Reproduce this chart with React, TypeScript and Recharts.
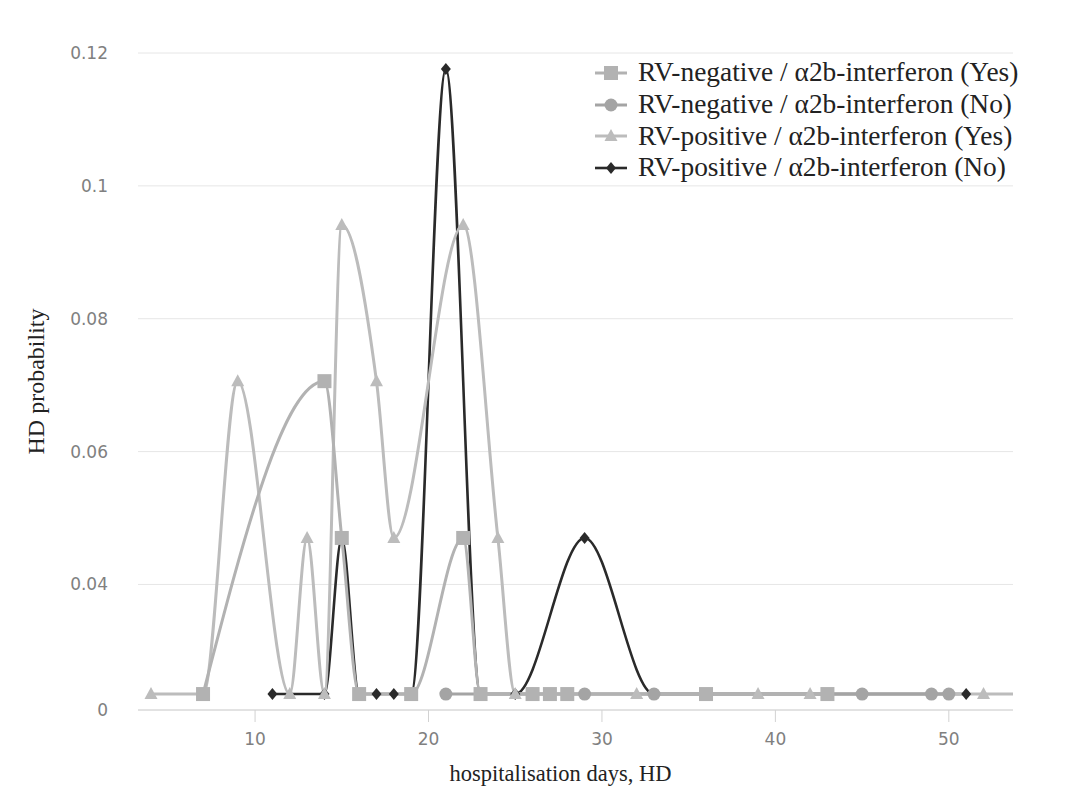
import { LineChart, Line, XAxis, YAxis, CartesianGrid, Legend, Label } from "recharts";

// one patient in a group ~ 0.0235, the flat line along the bottom
const sqDays = [7, 14, 15, 16, 19, 22, 23, 26, 27, 28, 36, 43];
const sqProb = [0.0235, 0.0706, 0.047, 0.0235, 0.0235, 0.047, 0.0235, 0.0235, 0.0235, 0.0235, 0.0235, 0.0235];

const ciDays = [21, 26, 29, 33, 45, 49, 50];
const ciProb = [0.0235, 0.0235, 0.0235, 0.0235, 0.0235, 0.0235, 0.0235];

const trDays = [4, 7, 9, 12, 13, 14, 15, 17, 18, 22, 24, 25, 32, 39, 42, 52, 54];
const trProb = [0.0235, 0.0235, 0.0706, 0.0235, 0.047, 0.0235, 0.0941, 0.0706, 0.047, 0.0941, 0.047, 0.0235, 0.0235, 0.0235, 0.0235, 0.0235, 0.0235];

const diDays = [11, 14, 15, 16, 17, 18, 19, 21, 23, 25, 29, 33, 51];
const diProb = [0.0235, 0.0235, 0.047, 0.0235, 0.0235, 0.0235, 0.0235, 0.1176, 0.0235, 0.0235, 0.047, 0.0235, 0.0235];

const xTicks = [10, 20, 30, 40, 50];
const X_MIN = 3.25;
const X_MAX = 53.7;
const Y_MIN = 0.0211;
const yTicks = [Y_MIN, 0.04, 0.06, 0.08, 0.1, 0.12];

const toPoints = (days: number[], probs: number[]) => days.map((x, i) => ({ x, p: probs[i] }));

type Shape = "square" | "circle" | "triangle" | "diamond";

const SERIES: { name: string; data: { x: number; p: number }[]; color: string; shape: Shape; width: number }[] = [
  { name: "RV-negative / α2b-interferon (Yes)", data: toPoints(sqDays, sqProb), color: "#b2b2b2", shape: "square", width: 3 },
  { name: "RV-negative / α2b-interferon (No)", data: toPoints(ciDays, ciProb), color: "#a4a4a4", shape: "circle", width: 3 },
  { name: "RV-positive / α2b-interferon (Yes)", data: toPoints(trDays, trProb), color: "#bcbcbc", shape: "triangle", width: 3 },
  { name: "RV-positive / α2b-interferon (No)", data: toPoints(diDays, diProb), color: "#2a2a2a", shape: "diamond", width: 2.6 },
];

function Marker({ shape, cx, cy, color }: { shape: Shape; cx: number; cy: number; color: string }) {
  if (shape === "square") return <rect x={cx - 7} y={cy - 7} width={14} height={14} fill={color} />;
  if (shape === "circle") return <circle cx={cx} cy={cy} r={6.5} fill={color} />;
  if (shape === "triangle")
    return <polygon points={`${cx},${cy - 7} ${cx + 6.5},${cy + 5} ${cx - 6.5},${cy + 5}`} fill={color} />;
  return <polygon points={`${cx},${cy - 6} ${cx + 5},${cy} ${cx},${cy + 6} ${cx - 5},${cy}`} fill={color} />;
}

const serif = '"Liberation Serif", "Times New Roman", serif';
const tickStyle = { fill: "#808080", fontSize: 17, fontFamily: '"DejaVu Sans", sans-serif' };

function LegendBox() {
  return (
    <div style={{ fontFamily: serif, fontSize: 27.4, color: "#222" }}>
      {SERIES.map((s) => (
        <div key={s.name} style={{ display: "flex", alignItems: "center", height: 31.7, whiteSpace: "nowrap" }}>
          <svg width={32} height={20} style={{ marginRight: 11 }}>
            <line x1={0} y1={10} x2={32} y2={10} stroke={s.color} strokeWidth={s.width} />
            <Marker shape={s.shape} cx={16} cy={10} color={s.color} />
          </svg>
          {s.name}
        </div>
      ))}
    </div>
  );
}

// the dark series sits underneath the grey ones
const drawOrder = [...SERIES].reverse();

export default function App() {
  return (
    <LineChart width={1074} height={780} margin={{ top: 45, right: 69, bottom: 0, left: 0 }}>
      <CartesianGrid vertical={false} stroke="#e6e6e6" />
      <XAxis
        type="number"
        dataKey="x"
        domain={[X_MIN, X_MAX]}
        allowDataOverflow
        ticks={xTicks}
        height={78}
        tickSize={12}
        tickMargin={11}
        stroke="#d2d2d2"
        tick={tickStyle}
      >
        <Label
          value="hospitalisation days, HD"
          position="insideBottom"
          offset={7}
          dx={-15}
          style={{ fontFamily: serif, fontSize: 22.5, fill: "#222" }}
        />
      </XAxis>
      <YAxis
        type="number"
        domain={[Y_MIN, 0.12]}
        ticks={yTicks}
        tickFormatter={(v: number) => (v < 0.03 ? "0" : String(v))}
        width={130}
        axisLine={false}
        tickLine={false}
        tickSize={0}
        tickMargin={30}
        tick={tickStyle}
      >
        <Label
          value="HD probability"
          angle={-90}
          position="insideLeft"
          offset={31}
          dx={-4}
          style={{ fontFamily: serif, fontSize: 24, fill: "#222", textAnchor: "middle" }}
        />
      </YAxis>
      <Legend
        layout="vertical"
        align="center"
        verticalAlign="middle"
        wrapperStyle={{ left: 587, top: 49, width: "auto" }}
        content={() => <LegendBox />}
      />
      {drawOrder.map((s) => (
        <Line
          key={s.name}
          name={s.name}
          data={s.data}
          dataKey="p"
          type="monotone"
          stroke={s.color}
          strokeWidth={s.width}
          activeDot={false}
          isAnimationActive={false}
          dot={(props: any) =>
            props.payload.x > X_MAX ? (
              <g key={`d-${props.index}`} />
            ) : (
              <g key={`d-${props.index}`}>
                <Marker shape={s.shape} cx={props.cx} cy={props.cy} color={s.color} />
              </g>
            )
          }
        />
      ))}
    </LineChart>
  );
}
